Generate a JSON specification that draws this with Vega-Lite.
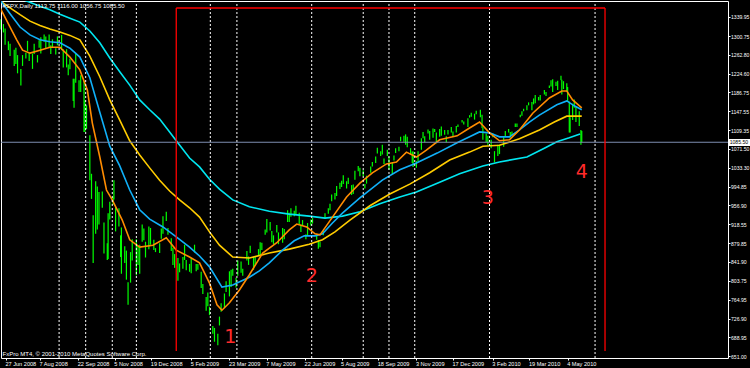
{
"$schema":"https://vega.github.io/schema/vega-lite/v6.json",
"width":727,"height":357,
"autosize":{"type":"none"},
"padding":{"left":1,"top":1,"right":22,"bottom":10},
"background":"#000000",
"config":{"view":{"stroke":"#ffffff","strokeWidth":1,"fill":"#000000"},
"axis":{"grid":false,"domain":false,"labelFont":"Liberation Sans","labelFontSize":5.6,"labelColor":"#ffffff","tickColor":"#ffffff","tickSize":2,"labelOverlap":false,"labelFlush":false,"labelBound":false,"titleOpacity":0}},
"datasets":{
"bars":[
{"d":"2008-06-20","h":1335,"v":1314},{"d":"2008-06-24","h":1325,"v":1308},{"d":"2008-06-26","h":1316,"v":1283},{"d":"2008-06-30","h":1290,"v":1272},
{"d":"2008-07-02","h":1285,"v":1260},{"d":"2008-07-07","h":1273,"v":1240},{"d":"2008-07-09","h":1277,"v":1244},{"d":"2008-07-11","h":1262,"v":1225},
{"d":"2008-07-15","h":1234,"v":1200},{"d":"2008-07-17","h":1262,"v":1240},{"d":"2008-07-21","h":1267,"v":1255},{"d":"2008-07-23","h":1291,"v":1270},
{"d":"2008-07-25","h":1266,"v":1250},{"d":"2008-07-29","h":1265,"v":1234},{"d":"2008-07-31","h":1285,"v":1264},{"d":"2008-08-04","h":1262,"v":1247},
{"d":"2008-08-06","h":1292,"v":1277},{"d":"2008-08-08","h":1298,"v":1265},{"d":"2008-08-12","h":1304,"v":1289},{"d":"2008-08-14","h":1300,"v":1276},
{"d":"2008-08-18","h":1304,"v":1277},{"d":"2008-08-20","h":1282,"v":1264},{"d":"2008-08-22","h":1294,"v":1277},{"d":"2008-08-26","h":1276,"v":1263},
{"d":"2008-08-28","h":1300,"v":1282},{"d":"2008-09-02","h":1303,"v":1272},{"d":"2008-09-04","h":1274,"v":1237},{"d":"2008-09-08","h":1274,"v":1237},
{"d":"2008-09-10","h":1243,"v":1221},{"d":"2008-09-12","h":1255,"v":1233},{"d":"2008-09-16","h":1214,"v":1169},{"d":"2008-09-17","h":1214,"v":1155},
{"d":"2008-09-19","h":1265,"v":1206},{"d":"2008-09-23","h":1211,"v":1187},{"d":"2008-09-25","h":1221,"v":1187},{"d":"2008-09-29","h":1210,"v":1106},
{"d":"2008-09-30","h":1170,"v":1106},{"d":"2008-10-02","h":1160,"v":1112},{"d":"2008-10-06","h":1099,"v":1008},{"d":"2008-10-08","h":1021,"v":970},
{"d":"2008-10-10","h":937,"v":840},{"d":"2008-10-13","h":1006,"v":899},{"d":"2008-10-15","h":995,"v":908},{"d":"2008-10-17","h":984,"v":918},
{"d":"2008-10-21","h":985,"v":952},{"d":"2008-10-23","h":922,"v":859},{"d":"2008-10-27","h":880,"v":846},{"d":"2008-10-28","h":941,"v":848},
{"d":"2008-10-30","h":964,"v":928},{"d":"2008-11-03","h":975,"v":958},{"d":"2008-11-04","h":1008,"v":969},{"d":"2008-11-06","h":953,"v":904},
{"d":"2008-11-10","h":951,"v":914},{"d":"2008-11-12","h":896,"v":852},{"d":"2008-11-13","h":912,"v":818},{"d":"2008-11-17","h":874,"v":840},
{"d":"2008-11-19","h":865,"v":806},{"d":"2008-11-21","h":801,"v":755},{"d":"2008-11-24","h":862,"v":800},{"d":"2008-11-26","h":888,"v":845},
{"d":"2008-12-01","h":888,"v":815},{"d":"2008-12-03","h":875,"v":836},{"d":"2008-12-05","h":877,"v":818},{"d":"2008-12-08","h":918,"v":883},
{"d":"2008-12-10","h":910,"v":886},{"d":"2008-12-12","h":883,"v":851},{"d":"2008-12-16","h":914,"v":868},{"d":"2008-12-18","h":911,"v":877},
{"d":"2008-12-22","h":887,"v":866},{"d":"2008-12-24","h":870,"v":862},{"d":"2008-12-29","h":880,"v":860},{"d":"2008-12-31","h":910,"v":889},
{"d":"2009-01-02","h":935,"v":899},{"d":"2009-01-06","h":944,"v":925},{"d":"2009-01-08","h":911,"v":897},{"d":"2009-01-12","h":890,"v":864},
{"d":"2009-01-14","h":871,"v":836},{"d":"2009-01-16","h":858,"v":830},{"d":"2009-01-20","h":850,"v":804},{"d":"2009-01-22","h":839,"v":821},
{"d":"2009-01-26","h":852,"v":828},{"d":"2009-01-28","h":877,"v":846},{"d":"2009-01-30","h":846,"v":825},{"d":"2009-02-03","h":838,"v":822},
{"d":"2009-02-05","h":850,"v":819},{"d":"2009-02-09","h":877,"v":861},{"d":"2009-02-11","h":838,"v":823},{"d":"2009-02-13","h":838,"v":826},
{"d":"2009-02-17","h":822,"v":789},{"d":"2009-02-19","h":797,"v":777},{"d":"2009-02-23","h":771,"v":743},{"d":"2009-02-25","h":780,"v":752},
{"d":"2009-02-27","h":751,"v":734},{"d":"2009-03-03","h":712,"v":696},{"d":"2009-03-05","h":708,"v":680},{"d":"2009-03-09","h":696,"v":673},
{"d":"2009-03-11","h":731,"v":713},{"d":"2009-03-13","h":758,"v":741},{"d":"2009-03-17","h":778,"v":749},{"d":"2009-03-19","h":803,"v":781},
{"d":"2009-03-23","h":823,"v":772},{"d":"2009-03-25","h":826,"v":791},{"d":"2009-03-27","h":828,"v":814},{"d":"2009-03-31","h":810,"v":790},
{"d":"2009-04-02","h":845,"v":814},{"d":"2009-04-06","h":843,"v":820},{"d":"2009-04-08","h":828,"v":814},{"d":"2009-04-13","h":864,"v":845},
{"d":"2009-04-15","h":853,"v":836},{"d":"2009-04-17","h":875,"v":860},{"d":"2009-04-21","h":852,"v":826},{"d":"2009-04-23","h":852,"v":835},
{"d":"2009-04-27","h":868,"v":855},{"d":"2009-04-29","h":882,"v":856},{"d":"2009-05-01","h":881,"v":866},{"d":"2009-05-05","h":908,"v":897},
{"d":"2009-05-07","h":929,"v":902},{"d":"2009-05-11","h":923,"v":906},{"d":"2009-05-13","h":905,"v":882},{"d":"2009-05-15","h":896,"v":878},
{"d":"2009-05-19","h":917,"v":902},{"d":"2009-05-21","h":902,"v":878},{"d":"2009-05-26","h":911,"v":881},{"d":"2009-05-28","h":909,"v":888},
{"d":"2009-06-01","h":947,"v":923},{"d":"2009-06-03","h":942,"v":923},{"d":"2009-06-05","h":951,"v":934},{"d":"2009-06-09","h":946,"v":935},
{"d":"2009-06-11","h":956,"v":939},{"d":"2009-06-15","h":942,"v":919},{"d":"2009-06-17","h":918,"v":903},{"d":"2009-06-19","h":927,"v":915},
{"d":"2009-06-23","h":898,"v":888},{"d":"2009-06-25","h":921,"v":896},{"d":"2009-06-29","h":928,"v":916},{"d":"2009-07-01","h":931,"v":920},
{"d":"2009-07-06","h":898,"v":887},{"d":"2009-07-08","h":886,"v":869},{"d":"2009-07-10","h":883,"v":872},{"d":"2009-07-14","h":905,"v":896},
{"d":"2009-07-16","h":941,"v":930},{"d":"2009-07-20","h":951,"v":940},{"d":"2009-07-22","h":960,"v":947},{"d":"2009-07-24","h":979,"v":965},
{"d":"2009-07-28","h":982,"v":969},{"d":"2009-07-30","h":996,"v":976},{"d":"2009-08-03","h":1003,"v":990},{"d":"2009-08-05","h":1007,"v":994},
{"d":"2009-08-07","h":1018,"v":1000},{"d":"2009-08-11","h":1006,"v":991},{"d":"2009-08-13","h":1013,"v":1000},{"d":"2009-08-17","h":998,"v":978},
{"d":"2009-08-19","h":999,"v":980},{"d":"2009-08-21","h":1027,"v":1009},{"d":"2009-08-25","h":1037,"v":1026},{"d":"2009-08-27","h":1033,"v":1016},
{"d":"2009-08-31","h":1028,"v":1016},{"d":"2009-09-02","h":1000,"v":991},{"d":"2009-09-04","h":1017,"v":1001},{"d":"2009-09-09","h":1036,"v":1023},
{"d":"2009-09-11","h":1045,"v":1036},{"d":"2009-09-15","h":1056,"v":1043},{"d":"2009-09-17","h":1074,"v":1062},{"d":"2009-09-21","h":1067,"v":1057},
{"d":"2009-09-23","h":1080,"v":1060},{"d":"2009-09-25","h":1052,"v":1041},{"d":"2009-09-29","h":1070,"v":1057},{"d":"2009-10-01","h":1056,"v":1029},
{"d":"2009-10-05","h":1043,"v":1020},{"d":"2009-10-07","h":1058,"v":1048},{"d":"2009-10-09","h":1073,"v":1063},{"d":"2009-10-13","h":1076,"v":1067},
{"d":"2009-10-15","h":1096,"v":1087},{"d":"2009-10-19","h":1098,"v":1086},{"d":"2009-10-21","h":1101,"v":1080},{"d":"2009-10-23","h":1096,"v":1075},
{"d":"2009-10-27","h":1073,"v":1060},{"d":"2009-10-29","h":1066,"v":1043},{"d":"2009-10-30","h":1066,"v":1035},{"d":"2009-11-03","h":1047,"v":1033},
{"d":"2009-11-05","h":1067,"v":1046},{"d":"2009-11-09","h":1093,"v":1070},{"d":"2009-11-11","h":1106,"v":1093},{"d":"2009-11-13","h":1097,"v":1085},
{"d":"2009-11-17","h":1111,"v":1103},{"d":"2009-11-19","h":1108,"v":1090},{"d":"2009-11-23","h":1113,"v":1094},{"d":"2009-11-25","h":1112,"v":1106},
{"d":"2009-11-27","h":1105,"v":1083},{"d":"2009-12-01","h":1112,"v":1096},{"d":"2009-12-03","h":1117,"v":1098},{"d":"2009-12-07","h":1110,"v":1100},
{"d":"2009-12-09","h":1097,"v":1085},{"d":"2009-12-11","h":1110,"v":1101},{"d":"2009-12-15","h":1116,"v":1105},{"d":"2009-12-17","h":1107,"v":1096},
{"d":"2009-12-21","h":1118,"v":1105},{"d":"2009-12-23","h":1121,"v":1116},{"d":"2009-12-28","h":1130,"v":1125},{"d":"2009-12-30","h":1127,"v":1121},
{"d":"2010-01-04","h":1134,"v":1116},{"d":"2010-01-06","h":1140,"v":1135},{"d":"2010-01-08","h":1145,"v":1137},{"d":"2010-01-12","h":1143,"v":1131},
{"d":"2010-01-14","h":1149,"v":1142},{"d":"2010-01-19","h":1151,"v":1136},{"d":"2010-01-21","h":1141,"v":1114},{"d":"2010-01-22","h":1115,"v":1090},
{"d":"2010-01-26","h":1103,"v":1085},{"d":"2010-01-28","h":1098,"v":1080},{"d":"2010-02-01","h":1090,"v":1073},{"d":"2010-02-03","h":1103,"v":1095},
{"d":"2010-02-05","h":1067,"v":1044},{"d":"2010-02-09","h":1080,"v":1057},{"d":"2010-02-11","h":1080,"v":1061},{"d":"2010-02-16","h":1095,"v":1076},
{"d":"2010-02-18","h":1108,"v":1097},{"d":"2010-02-22","h":1112,"v":1105},{"d":"2010-02-24","h":1106,"v":1094},{"d":"2010-02-26","h":1107,"v":1098},
{"d":"2010-03-02","h":1123,"v":1116},{"d":"2010-03-04","h":1123,"v":1116},{"d":"2010-03-08","h":1141,"v":1136},{"d":"2010-03-10","h":1148,"v":1139},
{"d":"2010-03-12","h":1153,"v":1148},{"d":"2010-03-16","h":1160,"v":1150},{"d":"2010-03-18","h":1166,"v":1160},{"d":"2010-03-22","h":1167,"v":1150},
{"d":"2010-03-24","h":1174,"v":1162},{"d":"2010-03-26","h":1181,"v":1164},{"d":"2010-03-30","h":1177,"v":1170},{"d":"2010-04-01","h":1181,"v":1170},
{"d":"2010-04-06","h":1191,"v":1182},{"d":"2010-04-08","h":1187,"v":1179},{"d":"2010-04-12","h":1200,"v":1195},{"d":"2010-04-14","h":1211,"v":1198},
{"d":"2010-04-16","h":1213,"v":1187},{"d":"2010-04-20","h":1208,"v":1199},{"d":"2010-04-22","h":1210,"v":1191},{"d":"2010-04-26","h":1220,"v":1211},
{"d":"2010-04-27","h":1212,"v":1182},{"d":"2010-04-29","h":1209,"v":1193},{"d":"2010-05-03","h":1205,"v":1188},{"d":"2010-05-04","h":1197,"v":1168},
{"d":"2010-05-06","h":1168,"v":1105},{"d":"2010-05-07","h":1136,"v":1105},{"d":"2010-05-10","h":1163,"v":1130},{"d":"2010-05-12","h":1172,"v":1155},
{"d":"2010-05-14","h":1157,"v":1126},{"d":"2010-05-18","h":1148,"v":1118},{"d":"2010-05-20","h":1110,"v":1080},{"d":"2010-05-21","h":1108,"v":1085}
],
"ma":[
{"d":"2008-06-20","s":"c","v":1392},{"d":"2008-07-14","s":"c","v":1377},{"d":"2008-08-07","s":"c","v":1361},{"d":"2008-08-19","s":"c","v":1354},
{"d":"2008-08-31","s":"c","v":1345},{"d":"2008-09-12","s":"c","v":1337},{"d":"2008-09-24","s":"c","v":1329},{"d":"2008-10-06","s":"c","v":1311},
{"d":"2008-10-18","s":"c","v":1287},{"d":"2008-10-30","s":"c","v":1256},{"d":"2008-11-11","s":"c","v":1228},{"d":"2008-11-23","s":"c","v":1201},
{"d":"2008-12-05","s":"c","v":1171},{"d":"2008-12-17","s":"c","v":1151},{"d":"2008-12-29","s":"c","v":1132},{"d":"2009-01-10","s":"c","v":1106},
{"d":"2009-01-18","s":"c","v":1088},{"d":"2009-02-03","s":"c","v":1053},{"d":"2009-02-15","s":"c","v":1035},{"d":"2009-02-27","s":"c","v":1010},
{"d":"2009-03-11","s":"c","v":990},{"d":"2009-03-27","s":"c","v":968},{"d":"2009-04-16","s":"c","v":954},{"d":"2009-05-10","s":"c","v":945},
{"d":"2009-06-03","s":"c","v":939},{"d":"2009-06-27","s":"c","v":935},{"d":"2009-07-16","s":"c","v":931},{"d":"2009-08-06","s":"c","v":935},
{"d":"2009-08-27","s":"c","v":944},{"d":"2009-09-20","s":"c","v":960},{"d":"2009-10-14","s":"c","v":974},{"d":"2009-11-03","s":"c","v":984},
{"d":"2009-12-01","s":"c","v":1004},{"d":"2009-12-25","s":"c","v":1021},{"d":"2010-01-22","s":"c","v":1037},{"d":"2010-02-11","s":"c","v":1045},
{"d":"2010-03-16","s":"c","v":1055},{"d":"2010-04-06","s":"c","v":1073},{"d":"2010-04-21","s":"c","v":1086},{"d":"2010-05-06","s":"c","v":1094},
{"d":"2010-05-19","s":"c","v":1102},
{"d":"2008-06-20","s":"y","v":1372},{"d":"2008-07-02","s":"y","v":1358},{"d":"2008-07-14","s":"y","v":1344},{"d":"2008-07-26","s":"y","v":1331},
{"d":"2008-08-07","s":"y","v":1322},{"d":"2008-08-19","s":"y","v":1315},{"d":"2008-08-31","s":"y","v":1309},{"d":"2008-09-12","s":"y","v":1302},
{"d":"2008-09-24","s":"y","v":1293},{"d":"2008-10-06","s":"y","v":1260},{"d":"2008-10-18","s":"y","v":1218},{"d":"2008-10-30","s":"y","v":1171},
{"d":"2008-11-11","s":"y","v":1130},{"d":"2008-11-23","s":"y","v":1088},{"d":"2008-12-05","s":"y","v":1059},{"d":"2008-12-17","s":"y","v":1033},
{"d":"2008-12-29","s":"y","v":1008},{"d":"2009-01-10","s":"y","v":986},{"d":"2009-01-22","s":"y","v":968},{"d":"2009-02-03","s":"y","v":952},
{"d":"2009-02-15","s":"y","v":933},{"d":"2009-02-27","s":"y","v":903},{"d":"2009-03-11","s":"y","v":876},{"d":"2009-03-27","s":"y","v":852},
{"d":"2009-04-16","s":"y","v":850},{"d":"2009-05-10","s":"y","v":860},{"d":"2009-06-03","s":"y","v":868},{"d":"2009-06-27","s":"y","v":878},
{"d":"2009-07-13","s":"y","v":887},{"d":"2009-07-28","s":"y","v":903},{"d":"2009-08-15","s":"y","v":927},{"d":"2009-09-08","s":"y","v":956},
{"d":"2009-10-02","s":"y","v":980},{"d":"2009-10-26","s":"y","v":1000},{"d":"2009-11-19","s":"y","v":1023},{"d":"2009-12-13","s":"y","v":1049},
{"d":"2010-01-06","s":"y","v":1065},{"d":"2010-01-22","s":"y","v":1077},{"d":"2010-02-11","s":"y","v":1079},{"d":"2010-03-07","s":"y","v":1092},
{"d":"2010-03-31","s":"y","v":1110},{"d":"2010-04-18","s":"y","v":1126},{"d":"2010-05-03","s":"y","v":1138},{"d":"2010-05-21","s":"y","v":1138},
{"d":"2008-06-20","s":"b","v":1374},{"d":"2008-07-02","s":"b","v":1346},{"d":"2008-07-14","s":"b","v":1319},{"d":"2008-07-26","s":"b","v":1303},
{"d":"2008-08-07","s":"b","v":1293},{"d":"2008-08-19","s":"b","v":1289},{"d":"2008-08-31","s":"b","v":1287},{"d":"2008-09-12","s":"b","v":1276},
{"d":"2008-09-24","s":"b","v":1258},{"d":"2008-10-06","s":"b","v":1216},{"d":"2008-10-18","s":"b","v":1146},{"d":"2008-10-30","s":"b","v":1077},
{"d":"2008-11-11","s":"b","v":1037},{"d":"2008-11-23","s":"b","v":988},{"d":"2008-12-05","s":"b","v":948},{"d":"2008-12-17","s":"b","v":929},
{"d":"2009-01-02","s":"b","v":913},{"d":"2009-01-18","s":"b","v":893},{"d":"2009-02-03","s":"b","v":872},{"d":"2009-02-15","s":"b","v":854},
{"d":"2009-02-27","s":"b","v":832},{"d":"2009-03-14","s":"b","v":791},{"d":"2009-03-27","s":"b","v":795},{"d":"2009-04-16","s":"b","v":811},
{"d":"2009-04-28","s":"b","v":824},{"d":"2009-05-10","s":"b","v":840},{"d":"2009-05-26","s":"b","v":866},{"d":"2009-06-09","s":"b","v":885},
{"d":"2009-06-21","s":"b","v":895},{"d":"2009-07-04","s":"b","v":895},{"d":"2009-07-13","s":"b","v":899},{"d":"2009-07-25","s":"b","v":921},
{"d":"2009-08-06","s":"b","v":941},{"d":"2009-08-27","s":"b","v":972},{"d":"2009-09-23","s":"b","v":1008},{"d":"2009-10-14","s":"b","v":1029},
{"d":"2009-11-03","s":"b","v":1043},{"d":"2009-11-28","s":"b","v":1063},{"d":"2009-12-22","s":"b","v":1084},{"d":"2010-01-06","s":"b","v":1096},
{"d":"2010-01-18","s":"b","v":1106},{"d":"2010-01-30","s":"b","v":1104},{"d":"2010-02-11","s":"b","v":1096},{"d":"2010-02-23","s":"b","v":1096},
{"d":"2010-03-07","s":"b","v":1110},{"d":"2010-03-19","s":"b","v":1126},{"d":"2010-03-31","s":"b","v":1140},{"d":"2010-04-21","s":"b","v":1161},
{"d":"2010-05-03","s":"b","v":1169},{"d":"2010-05-12","s":"b","v":1159},{"d":"2010-05-21","s":"b","v":1151},
{"d":"2008-06-20","s":"o","v":1358},{"d":"2008-07-02","s":"o","v":1319},{"d":"2008-07-10","s":"o","v":1293},{"d":"2008-07-17","s":"o","v":1272},
{"d":"2008-07-26","s":"o","v":1266},{"d":"2008-08-07","s":"o","v":1272},{"d":"2008-08-19","s":"o","v":1278},{"d":"2008-08-31","s":"o","v":1278},
{"d":"2008-09-12","s":"o","v":1258},{"d":"2008-09-24","s":"o","v":1232},{"d":"2008-10-03","s":"o","v":1191},{"d":"2008-10-09","s":"o","v":1124},
{"d":"2008-10-18","s":"o","v":1055},{"d":"2008-10-26","s":"o","v":988},{"d":"2008-11-02","s":"o","v":968},{"d":"2008-11-14","s":"o","v":927},
{"d":"2008-11-23","s":"o","v":887},{"d":"2008-12-05","s":"o","v":872},{"d":"2008-12-21","s":"o","v":876},{"d":"2009-01-06","s":"o","v":891},
{"d":"2009-01-18","s":"o","v":866},{"d":"2009-02-03","s":"o","v":852},{"d":"2009-02-15","s":"o","v":840},{"d":"2009-02-27","s":"o","v":799},
{"d":"2009-03-08","s":"o","v":755},{"d":"2009-03-14","s":"o","v":744},{"d":"2009-03-23","s":"o","v":759},{"d":"2009-04-04","s":"o","v":785},
{"d":"2009-04-16","s":"o","v":816},{"d":"2009-05-02","s":"o","v":860},{"d":"2009-05-19","s":"o","v":881},{"d":"2009-06-03","s":"o","v":907},
{"d":"2009-06-12","s":"o","v":919},{"d":"2009-06-24","s":"o","v":913},{"d":"2009-07-04","s":"o","v":899},{"d":"2009-07-10","s":"o","v":897},
{"d":"2009-07-25","s":"o","v":933},{"d":"2009-08-11","s":"o","v":974},{"d":"2009-08-27","s":"o","v":1002},{"d":"2009-09-11","s":"o","v":1023},
{"d":"2009-09-28","s":"o","v":1041},{"d":"2009-10-10","s":"o","v":1045},{"d":"2009-10-22","s":"o","v":1065},{"d":"2009-11-03","s":"o","v":1055},
{"d":"2009-11-15","s":"o","v":1069},{"d":"2009-12-01","s":"o","v":1090},{"d":"2009-12-22","s":"o","v":1098},{"d":"2010-01-06","s":"o","v":1114},
{"d":"2010-01-18","s":"o","v":1126},{"d":"2010-01-30","s":"o","v":1104},{"d":"2010-02-11","s":"o","v":1088},{"d":"2010-02-23","s":"o","v":1090},
{"d":"2010-03-07","s":"o","v":1110},{"d":"2010-03-23","s":"o","v":1144},{"d":"2010-04-12","s":"o","v":1175},{"d":"2010-04-27","s":"o","v":1189},
{"d":"2010-05-03","s":"o","v":1189},{"d":"2010-05-10","s":"o","v":1171},{"d":"2010-05-21","s":"o","v":1155}
],
"vl":[{"d":"2008-08-30","v":646.94,"v2":1371.83},{"d":"2008-10-01","v":646.94,"v2":1371.83},{"d":"2008-11-02","v":646.94,"v2":1371.83},{"d":"2008-12-01","v":646.94,"v2":1371.83},{"d":"2009-02-28","v":646.94,"v2":1371.83},{"d":"2009-04-01","v":646.94,"v2":1371.83},{"d":"2009-06-30","v":646.94,"v2":1371.83},{"d":"2009-08-31","v":646.94,"v2":1371.83},{"d":"2009-10-01","v":646.94,"v2":1371.83},{"d":"2009-11-01","v":646.94,"v2":1371.83},{"d":"2010-01-30","v":646.94,"v2":1371.83},{"d":"2010-06-06","v":646.94,"v2":1371.83}],
"pl":[{"d":"2008-06-21","d2":"2010-11-13","v":1085}],
"rr":[{"d":"2009-01-18","d2":"2009-01-18","v":661,"v2":1357.6},{"d":"2010-06-18","d2":"2010-06-18","v":661,"v2":1357.6},{"d":"2009-01-18","d2":"2010-06-18","v":1357.6,"v2":1357.6}],
"nums":[{"d":"2009-03-24","v":677.4,"t":"1"},{"d":"2009-06-30","v":801.3,"t":"2"},{"d":"2010-01-28","v":959.6,"t":"3"},{"d":"2010-05-21","v":1012.4,"t":"4"}],
"texts":[{"d":"2008-06-23","v":1360.7,"t":"#SPX,Daily  1113.75 1116.00 1056.75 1085.50"},{"d":"2008-06-23","v":656,"t":"FxPro MT4, © 2001-2010 MetaQuotes Software Corp."}],
"box":[{"d":"2010-11-14","d2":"2010-12-12","v":1077.4,"v2":1091.6}],
"boxt":[{"d":"2010-11-15","v":1085,"t":"1085.50"}]
},
"encoding":{
"x":{"field":"d","type":"temporal","scale":{"type":"utc","domain":[{"year":2008,"month":6,"date":21,"hours":2,"utc":true},{"year":2010,"month":11,"date":13,"utc":true}]},
"axis":{"title":null,"orient":"bottom","format":"%-d %b %Y","labelAlign":"left","labelBaseline":"top","labelPadding":1,"labelOffset":-1,
"values":[{"year":2008,"month":6,"date":27,"utc":true},{"year":2008,"month":8,"date":7,"utc":true},{"year":2008,"month":9,"date":22,"utc":true},{"year":2008,"month":11,"date":5,"utc":true},{"year":2008,"month":12,"date":19,"utc":true},{"year":2009,"month":2,"date":5,"utc":true},{"year":2009,"month":3,"date":23,"utc":true},{"year":2009,"month":5,"date":7,"utc":true},{"year":2009,"month":6,"date":22,"utc":true},{"year":2009,"month":8,"date":5,"utc":true},{"year":2009,"month":9,"date":18,"utc":true},{"year":2009,"month":11,"date":3,"utc":true},{"year":2009,"month":12,"date":17,"utc":true},{"year":2010,"month":2,"date":3,"utc":true},{"year":2010,"month":3,"date":19,"utc":true},{"year":2010,"month":5,"date":4,"utc":true}]}},
"y":{"field":"v","type":"quantitative","scale":{"domain":[646.94,1371.83],"nice":false,"zero":false},
"axis":{"title":null,"orient":"right","format":".2f","labelAlign":"left","labelBaseline":"middle","labelPadding":0.5,"labelFontSize":5.1,
"values":[651.00,688.95,726.90,764.95,803.75,841.90,879.85,918.55,956.90,994.85,1033.30,1071.50,1109.35,1147.55,1186.75,1224.60,1262.80,1300.75,1339.95]}}
},
"layer":[
{"data":{"name":"bars"},"mark":{"type":"rule","color":"#00ff00","strokeWidth":1.2},"encoding":{"y2":{"field":"h"}}},
{"data":{"name":"ma"},"mark":{"type":"line","strokeWidth":1.6,"clip":true},
"encoding":{"color":{"field":"s","type":"nominal","scale":{"domain":["c","y","b","o"],"range":["#00e6f0","#ffcc00","#10b0f8","#ff8c00"]},"legend":null}}},
{"data":{"name":"vl"},"mark":{"type":"rule","color":"#ffffff","strokeWidth":1,"strokeDash":[2,2]},"encoding":{"y2":{"field":"v2"}}},
{"data":{"name":"pl"},"mark":{"type":"rule","color":"#7d8db0","strokeWidth":1,"clip":true},"encoding":{"x2":{"field":"d2"}}},
{"data":{"name":"rr"},"mark":{"type":"rule","color":"#ff0000","strokeWidth":1.3},"encoding":{"x2":{"field":"d2"},"y2":{"field":"v2"}}},
{"data":{"name":"nums"},"mark":{"type":"text","font":"DejaVu Sans","fontSize":19,"color":"#ff2a2a","align":"center","baseline":"alphabetic"},"encoding":{"text":{"field":"t"}}},
{"data":{"name":"texts"},"mark":{"type":"text","font":"Liberation Sans","fontSize":6,"color":"#ffffff","align":"left","baseline":"middle"},"encoding":{"text":{"field":"t"}}},
{"data":{"name":"box"},"mark":{"type":"rect","color":"#ffffff"},"encoding":{"x2":{"field":"d2"},"y2":{"field":"v2"}}},
{"data":{"name":"boxt"},"mark":{"type":"text","font":"Liberation Sans","fontSize":5.1,"color":"#000000","align":"left","baseline":"middle"},"encoding":{"text":{"field":"t"}}}
]
}
